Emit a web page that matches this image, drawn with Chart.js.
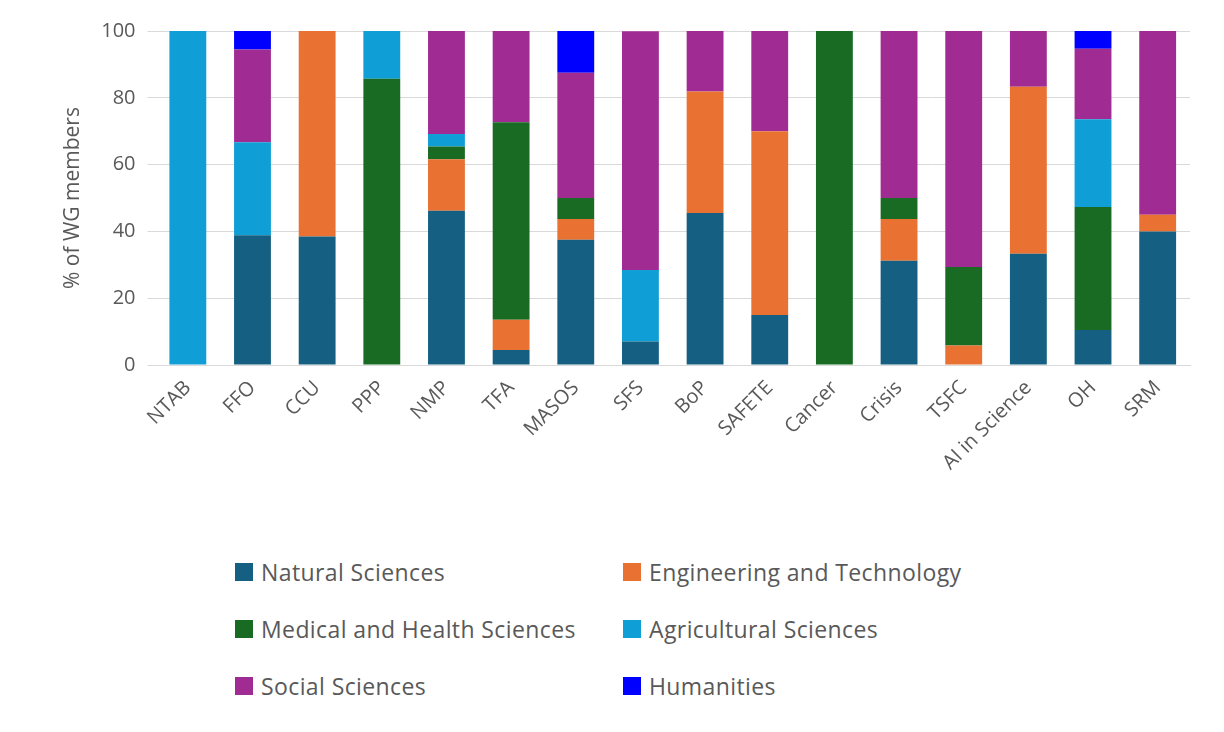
<!DOCTYPE html>
<html>
<head>
<meta charset="utf-8">
<script src="https://cdn.jsdelivr.net/npm/chart.js@4"></script>
<style>
  body { margin: 0; background: #fff; font-family: "Open Sans", sans-serif; }
  #wrap { position: relative; width: 1224px; height: 478px; }
  #legend { position: absolute; left: 235px; top: 558px; display: grid;
    grid-template-columns: 388px 388px; row-gap: 29px; font-size: 23px; letter-spacing: 0.4px; color: #595959; }
  .item { display: flex; align-items: center; height: 28px; white-space: nowrap; }
  .sw { width: 18px; height: 18px; margin-right: 8px; }
</style>
</head>
<body>
<div id="wrap"><canvas id="c"></canvas></div>
<div id="legend"></div>
<script>
const categories = ['NTAB', 'FFO', 'CCU', 'PPP', 'NMP', 'TFA', 'MASOS', 'SFS', 'BoP', 'SAFETE',
  'Cancer', 'Crisis', 'TSFC', 'AI in Science', 'OH', 'SRM'];
const natural     = [0, 38.9, 38.5, 0, 46.2, 4.5, 37.5, 7.1, 45.5, 15, 0, 31.25, 0, 33.3, 10.5, 40];
const engineering = [0, 0, 61.5, 0, 15.4, 9.1, 6.25, 0, 36.4, 55, 0, 12.5, 5.9, 50, 0, 5];
const medical     = [0, 0, 0, 85.7, 3.8, 59.1, 6.25, 0, 0, 0, 100, 6.25, 23.5, 0, 36.8, 0];
const agricultural= [100, 27.8, 0, 14.3, 3.8, 0, 0, 21.4, 0, 0, 0, 0, 0, 0, 26.3, 0];
const social      = [0, 27.8, 0, 0, 30.8, 27.3, 37.5, 71.4, 18.2, 30, 0, 50, 70.6, 16.7, 21.1, 55];
const humanities  = [0, 5.6, 0, 0, 0, 0, 12.5, 0, 0, 0, 0, 0, 0, 0, 5.3, 0];
const yTicks = [0, 20, 40, 60, 80, 100];

const series = [
  ['Natural Sciences', natural, '#156082'],
  ['Engineering and Technology', engineering, '#E97132'],
  ['Medical and Health Sciences', medical, '#196B24'],
  ['Agricultural Sciences', agricultural, '#0F9ED5'],
  ['Social Sciences', social, '#A02B93'],
  ['Humanities', humanities, '#0000FF'],
];

const legend = document.getElementById('legend');
series.forEach(s => {
  const d = document.createElement('div');
  d.className = 'item';
  d.innerHTML = '<span class="sw" style="background:' + s[2] + '"></span>' + s[0];
  legend.appendChild(d);
});

new Chart(document.getElementById('c'), {
  type: 'bar',
  data: {
    labels: categories,
    datasets: series.map(s => ({ label: s[0], data: s[1], backgroundColor: s[2],
      barPercentage: 0.57, categoryPercentage: 1 }))
  },
  options: {
    responsive: true, maintainAspectRatio: false, animation: false,
    layout: { padding: { top: 31, right: 34, left: 56 } },
    plugins: { legend: { display: false }, tooltip: { enabled: false } },
    scales: {
      x: { stacked: true, grid: { display: false },
        border: { color: '#d9d9d9' },
        ticks: { color: '#595959', font: { family: 'Open Sans', size: 20 }, maxRotation: 45, minRotation: 45 } },
      y: { stacked: true, min: 0, max: 100,
        afterBuildTicks: ax => { ax.ticks = yTicks.map(v => ({ value: v })); },
        grid: { color: '#d9d9d9' }, border: { display: false },
        ticks: { color: '#595959', padding: 12, font: { family: 'Open Sans', size: 20 } },
        title: { display: true, text: '% of WG members', color: '#595959', font: { family: 'Open Sans', size: 21 } } }
    }
  }
});
</script>
</body>
</html>
